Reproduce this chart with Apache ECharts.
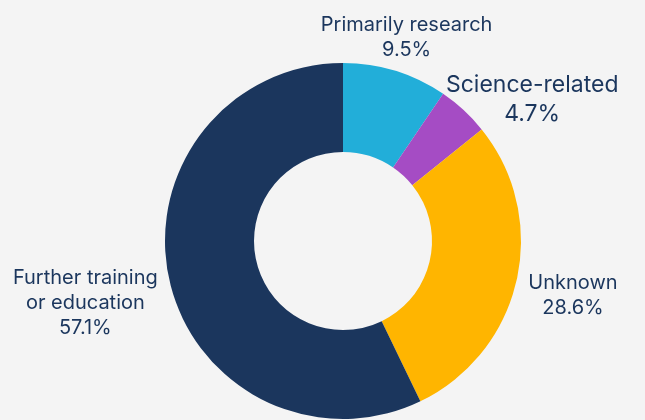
<!DOCTYPE html>
<html>
<head>
<meta charset="utf-8">
<script src="https://cdn.jsdelivr.net/npm/echarts@6/dist/echarts.min.js"></script>
<style>
  html, body { margin: 0; padding: 0; background: #f4f4f4; }
  #chart { width: 645px; height: 420px; }
</style>
</head>
<body>
<div id="chart"></div>
<script>
const categories = ['Primarily research', 'Science-related', 'Unknown', 'Further training\nor education']
const shares = [9.5, 4.7, 28.6, 57.1]
const colors = ['#22aed9', '#a54cc4', '#ffb500', '#1b365d']

const cx = 343
const cy = 241
const innerR = 89
const outerR = 178
const labelGap = 12

const chart = echarts.init(document.getElementById('chart'))

const data = categories.map((name, i) => {
  const item = { name: name, value: shares[i], itemStyle: { color: colors[i] } }
  if (name === 'Science-related') {
    item.label = { fontSize: 23, lineHeight: 29 }
  }
  return item
})

// mid angle of each slice (screen radians, y down), clockwise from 12 o'clock
const total = shares.reduce((a, b) => a + b, 0)
let acc = 0
const midAngles = shares.map(v => {
  const mid = (acc + v / 2) / total
  acc += v
  return -Math.PI / 2 + mid * Math.PI * 2
})

// put the label box on the slice's mid ray, just clear of the ring;
// if it hits an earlier label, turn the ray clockwise a bit
const placed = []
function placeAt(ang, w, h) {
  const dx = Math.cos(ang), dy = Math.sin(ang)
  const half = Math.min(
    Math.abs(dx) > 1e-6 ? (w / 2) / Math.abs(dx) : Infinity,
    Math.abs(dy) > 1e-6 ? (h / 2) / Math.abs(dy) : Infinity
  )
  const r = outerR + labelGap + half
  return { x: cx + dx * r, y: cy + dy * r }
}
function hits(a, b, m) {
  return a.x - a.w / 2 < b.x + b.w / 2 + m && b.x - b.w / 2 < a.x + a.w / 2 + m &&
    a.y - a.h / 2 < b.y + b.h / 2 + m && b.y - b.h / 2 < a.y + a.h / 2 + m
}

chart.setOption({
  backgroundColor: '#f4f4f4',
  animation: false,
  series: [{
    type: 'pie',
    center: [cx, cy],
    radius: [innerR, outerR],
    startAngle: 90,
    clockwise: true,
    avoidLabelOverlap: false,
    itemStyle: { borderWidth: 0 },
    label: {
      show: true,
      position: 'outside',
      formatter: '{b}\n{c}%',
      color: '#1b365d',
      fontFamily: 'Inter',
      fontSize: 20,
      lineHeight: 25
    },
    labelLine: { show: false },
    labelLayout: function (p) {
      const i = p.dataIndex
      const w = p.labelRect.width
      const h = p.labelRect.height
      let ang = midAngles[i]
      let pos = placeAt(ang, w, h)
      for (let step = 0; step < 60; step++) {
        const box = { x: pos.x, y: pos.y, w: w, h: h }
        const clash = placed.slice(0, i).some(b => b && hits(box, b, 8))
        if (!clash) break
        ang += Math.PI / 180
        pos = placeAt(ang, w, h)
      }
      placed[i] = { x: pos.x, y: pos.y, w: w, h: h }
      return {
        x: pos.x,
        y: pos.y + 3,
        align: 'center',
        verticalAlign: 'middle',
        hideOverlap: false
      }
    },
    emphasis: { disabled: true },
    data: data
  }]
})
</script>
</body>
</html>
